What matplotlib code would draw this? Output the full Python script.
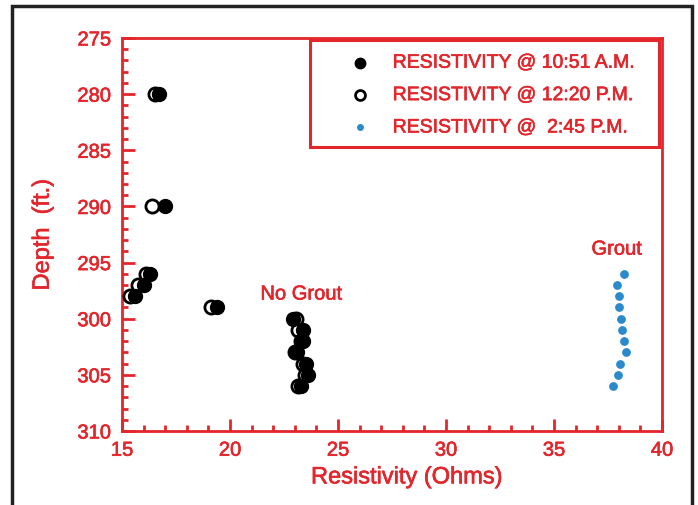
import numpy as np
import matplotlib.pyplot as plt
import matplotlib.patheffects as pe
from matplotlib.patches import Rectangle

plt.rcParams['font.family'] = ['Liberation Sans', 'DejaVu Sans']

# Resistivity (Ohms) vs depth (ft.)
depth_1051 = [280, 290, 296, 297, 298, 299, 300, 301, 302, 303, 304, 305, 306]
res_1051 = [16.7, 17.0, 16.3, 16.0, 15.6, 19.4, 22.9, 23.4, 23.4, 23.1, 23.5, 23.6, 23.3]

depth_1220 = [280, 290, 296, 297, 298, 299, 300, 301, 302, 303, 304, 305, 306]
res_1220 = [16.55, 16.4, 16.1, 15.75, 15.35, 19.1, 23.05, 23.15, 23.3, 23.0, 23.4, 23.45, 23.15]

depth_245 = [296, 297, 298, 299, 300, 301, 302, 303, 304, 305, 306]
res_245 = [38.25, 37.9, 38.0, 38.0, 38.1, 38.15, 38.25, 38.35, 38.05, 37.95, 37.75]

red = '#E2262C'
blue = '#2A8ACB'
thick = [pe.withStroke(linewidth=0.45, foreground=red)]

fig = plt.figure(figsize=(6.98, 5.06), dpi=100)
ax = fig.add_axes([122/698, 1 - 432/506, (662 - 122)/698, (432 - 39)/506])

ax.scatter(res_1220, depth_1220, s=90, facecolors='white', edgecolors='black',
           linewidths=2, zorder=3, label='RESISTIVITY @ 12:20 P.M.')
ax.scatter(res_1051, depth_1051, s=100, color='black', zorder=4,
           label='RESISTIVITY @ 10:51 A.M.')
ax.scatter(res_245, depth_245, s=28, color=blue, zorder=4,
           label='RESISTIVITY @  2:45 P.M.')

ax.set_xlim(15, 40)
ax.set_ylim(310, 275)
ax.set_xticks(np.arange(15, 41, 5))
ax.set_yticks(np.arange(275, 311, 5))
ax.set_xticks(np.arange(15, 41, 1), minor=True)
ax.set_yticks(np.arange(275, 311, 1), minor=True)
ax.tick_params(axis='both', which='both', direction='in', color=red,
               labelcolor=red, labelsize=14.5, width=2, top=False, right=False)
ax.tick_params(which='major', length=9)
ax.tick_params(which='minor', length=4.5)
ax.tick_params(axis='x', pad=7)
ax.tick_params(axis='y', pad=8)
for s in ax.spines.values():
    s.set_color(red)
    s.set_linewidth(2)

ax.set_xlabel('Resistivity (Ohms)', color=red, fontsize=17, labelpad=6)
ax.xaxis.set_label_coords(0.528, -0.09)
ax.set_ylabel('Depth  (ft.)', color=red, fontsize=17, labelpad=17)

ax.text(23.3, 297.8, 'No Grout', color=red, fontsize=14.5, ha='center', va='center',
        path_effects=thick)
ax.text(37.9, 293.8, 'Grout', color=red, fontsize=14.5, ha='center', va='center',
        path_effects=thick)

handles, labels = ax.get_legend_handles_labels()
order = [1, 0, 2]
leg = ax.legend([handles[i] for i in order], [labels[i] for i in order],
                loc='upper left', bbox_to_anchor=(0.422, 0.959), fontsize=14,
                frameon=False, labelcolor=red, borderpad=0, borderaxespad=0,
                handlelength=1.0, handletextpad=1.2, labelspacing=0.76,
                markerscale=0.75)
for t in leg.get_texts():
    t.set_path_effects(thick)

# legend box
ax.add_patch(Rectangle((0.348, 0.723), 0.994 - 0.348, 0.995 - 0.723,
                       transform=ax.transAxes, fill=False, edgecolor=red,
                       linewidth=2.2, zorder=5, clip_on=False))

for t in ax.get_xticklabels() + ax.get_yticklabels():
    t.set_path_effects(thick)
ax.xaxis.label.set_path_effects(thick)
ax.yaxis.label.set_path_effects(thick)

# outer black frame
fig.patches.append(Rectangle((12/698, -0.02), (692 - 12)/698, 1 - 7/506 + 0.02,
                             transform=fig.transFigure, fill=False,
                             edgecolor='#222222', linewidth=2.5))

fig.savefig('out.png', dpi=100)
